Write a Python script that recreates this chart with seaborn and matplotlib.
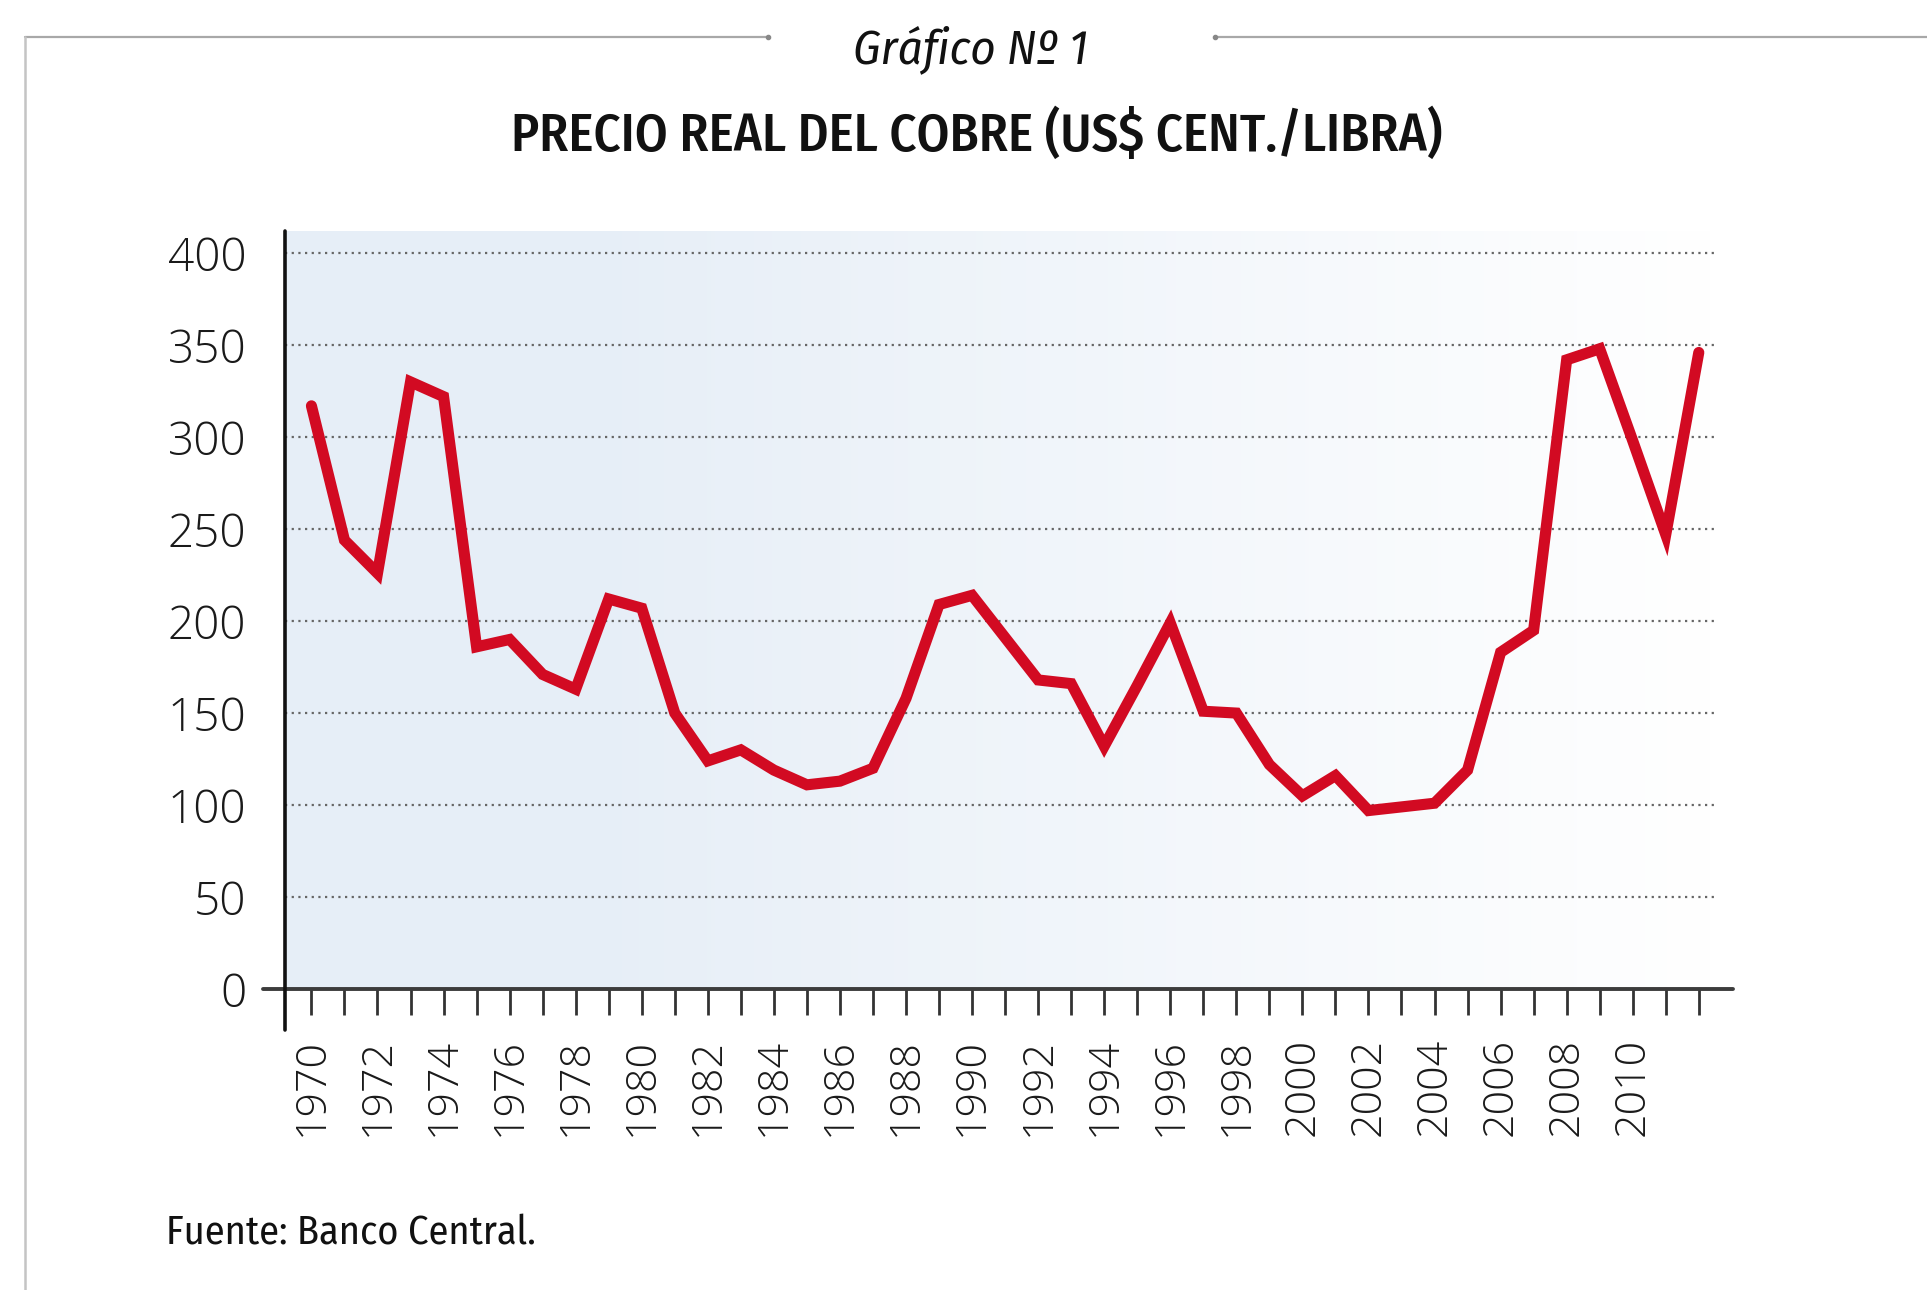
import numpy as np
import pandas as pd
import seaborn as sns
import matplotlib.pyplot as plt
from matplotlib.colors import LinearSegmentedColormap
from matplotlib.lines import Line2D
from matplotlib import font_manager

# Data
years = list(range(1970, 2013))
precio = [317, 244, 226, 330, 322, 186, 190, 171, 163, 212,
          207, 150, 124, 130, 119, 111, 113, 120, 158, 209,
          214, 191, 168, 166, 132, 165, 199, 151, 150, 122,
          105, 116, 97, 99, 101, 119, 183, 195, 342, 348,
          298, 247, 346]
y_ticks = [0, 50, 100, 150, 200, 250, 300, 350, 400]
x_labels = [str(y) if (y % 2 == 0 and y <= 2010) else "" for y in years]

titulo = "PRECIO REAL DEL COBRE (US$ CENT./LIBRA)"
subtitulo = "Gráfico Nº 1"
fuente = "Fuente: Banco Central."

names = {f.name for f in font_manager.fontManager.ttflist}


def pick(options):
    for o in options:
        if o in names:
            return o
    return 'DejaVu Sans'


narrow = pick(['Fira Sans Condensed', 'PT Sans Narrow', 'Roboto Condensed',
               'IBM Plex Sans Condensed', 'Open Sans Condensed'])
thin = pick(['Open Sans', 'Lato'])

sns.set_style("white")
plt.rcParams['font.family'] = [thin, 'DejaVu Sans']

fig = plt.figure(figsize=(19.27, 12.90), dpi=100)
ax = fig.add_axes([0.1479, 0.2333, 0.891 - 0.1479, 0.8209 - 0.2333])

x0, x1, ytop = 1969.2, 2012.55, 412

# background gradient: light blue on the left fading to white
cmap = LinearSegmentedColormap.from_list("fondo", ["#e6eef7", "#ffffff"])
grad = np.clip((np.linspace(0, 1, 400) - 0.2) / 0.8, 0, 1).reshape(1, -1)
ax.imshow(grad, extent=[x0, x1, 0, ytop], aspect='auto', cmap=cmap,
          vmin=0, vmax=1, zorder=0)

df = pd.DataFrame({"anio": years, "precio": precio})
sns.lineplot(data=df, x="anio", y="precio", ax=ax, color="#d20a22",
             linewidth=8, zorder=3)
ax.lines[-1].set_solid_joinstyle('miter')

ax.set_xlim(x0, x1)
ax.set_ylim(0, ytop)
ax.set_xlabel("")
ax.set_ylabel("")

for s in ax.spines.values():
    s.set_visible(False)

# axis lines that stick out past the plot area
ax.plot([-0.0154, 1.011], [0, 0], transform=ax.transAxes, color="#3c3c3c",
        lw=2.8, clip_on=False, zorder=5)
ax.plot([0, 0], [-0.054, 1.0], transform=ax.transAxes, color="#111111",
        lw=2.6, clip_on=False, zorder=5)

ax.set_xticks(years)
ax.set_xticklabels(x_labels, rotation=90)
ax.set_yticks(y_ticks)
ax.tick_params(axis='x', direction='out', length=19, width=2, color='#333333',
               pad=16, labelsize=31, bottom=True)
ax.tick_params(axis='y', length=0, pad=28, labelsize=33, left=False)
for lab in ax.get_xticklabels() + ax.get_yticklabels():
    lab.set_fontweight(300)
    lab.set_color('#1a1a1a')

ax.grid(axis='y', linestyle=(0, (1, 2)), color='#666666', linewidth=1.6)
ax.grid(axis='x', visible=False)

# frame lines
ytop_fig = 1 - 37 / 1290
fig.add_artist(Line2D([0.013, 0.3985], [ytop_fig, ytop_fig], color='#a8a8a8', lw=1.6))
fig.add_artist(Line2D([0.6305, 1.0], [ytop_fig, ytop_fig], color='#a8a8a8', lw=1.6))
fig.add_artist(Line2D([0.013, 0.013], [0, ytop_fig], color='#c4c4c4', lw=1.8))
fig.add_artist(Line2D([0.3985], [ytop_fig], marker='o', ms=3, color='#888888'))
fig.add_artist(Line2D([0.6305], [ytop_fig], marker='o', ms=3, color='#888888'))

fig.text(0.5035, 1 - 63 / 1290, subtitulo, ha='center', va='baseline',
         fontsize=35, style='italic', family=[narrow, 'DejaVu Sans'], color='#111111')
fig.text(0.507, 1 - 151 / 1290, titulo, ha='center', va='baseline',
         fontsize=38, fontweight=500, family=[narrow, 'DejaVu Sans'], color='#111111')
fig.text(166 / 1927, 1 - 1244 / 1290, fuente, ha='left', va='baseline',
         fontsize=29, family=[narrow, 'DejaVu Sans'], color='#111111')

fig.savefig("out.png", dpi=100, facecolor='white')
